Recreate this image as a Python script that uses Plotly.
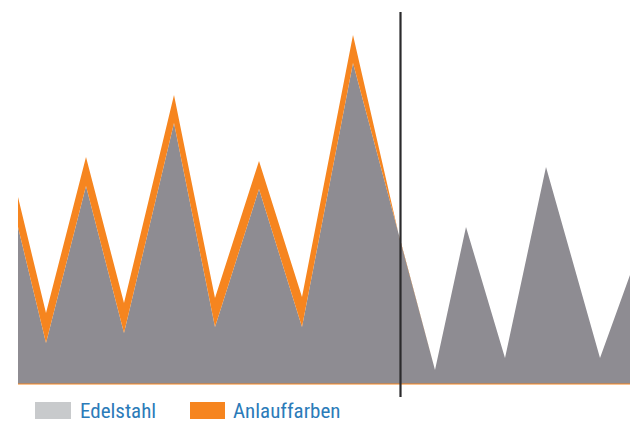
import plotly.graph_objects as go

# positions along the profile (arbitrary horizontal units)
x_pos = [18, 46, 86, 124, 174, 215, 259, 302, 353, 400, 435, 466, 505, 546, 600, 630]
# height of the steel surface profile
edelstahl = [157, 41, 198, 51, 261, 57, 195, 57, 321, 144, 14, 157, 26, 217, 26, 109]
# thickness of the temper-colour (oxide) layer on top
anlauffarben = [30, 30, 29, 30, 28, 29, 28, 30, 28, 0, 0, 0, 0, 0, 0, 0]

series_names = ["Edelstahl", "Anlauffarben"]
area_gray = "#8e8c92"
legend_gray = "#c8cacc"
orange = "#f6851f"
text_blue = "#2b7bb9"

W, H = 630, 423
base_page = 384
plot_h = base_page
bottom = H - plot_h
x_range = [0, 630]
y_range = [0, plot_h]

fig = go.Figure()
fig.add_trace(go.Scatter(
    x=x_pos, y=edelstahl, name=series_names[0], mode="lines",
    stackgroup="one", line=dict(width=0, color=area_gray),
    fillcolor=area_gray, hoverinfo="skip"))
fig.add_trace(go.Scatter(
    x=x_pos, y=anlauffarben, name=series_names[1], mode="lines",
    stackgroup="one", line=dict(width=0, color=orange),
    fillcolor=orange, hoverinfo="skip"))

def px_x(p):
    return p / W

def px_y(p):
    return (base_page - p) / plot_h

shapes = [
    # thin orange baseline
    dict(type="line", xref="paper", yref="paper", x0=px_x(18), x1=1,
         y0=px_y(384), y1=px_y(384), line=dict(color=orange, width=1)),
    # vertical divider
    dict(type="line", xref="paper", yref="paper", x0=px_x(400.5), x1=px_x(400.5),
         y0=px_y(397), y1=px_y(12), line=dict(color="#2b2a2c", width=2.2)),
    # legend swatches
    dict(type="rect", xref="paper", yref="paper", x0=px_x(35), x1=px_x(71),
         y0=px_y(419), y1=px_y(402), fillcolor=legend_gray, line=dict(width=0)),
    dict(type="rect", xref="paper", yref="paper", x0=px_x(190), x1=px_x(225),
         y0=px_y(419), y1=px_y(402), fillcolor=orange, line=dict(width=0)),
]

font = dict(family="Liberation Sans Narrow, Roboto Condensed, Arial Narrow, sans-serif",
            size=21, color=text_blue)
annotations = [
    dict(text=series_names[0], xref="paper", yref="paper", x=px_x(78), y=px_y(411),
         xanchor="left", yanchor="middle", showarrow=False, font=font),
    dict(text=series_names[1], xref="paper", yref="paper", x=px_x(231), y=px_y(411),
         xanchor="left", yanchor="middle", showarrow=False, font=font),
]

fig.update_layout(
    width=W, height=H,
    margin=dict(l=0, r=0, t=0, b=bottom),
    paper_bgcolor="white", plot_bgcolor="white",
    showlegend=False,
    hovermode=False,
    xaxis=dict(range=x_range, visible=False, fixedrange=True),
    yaxis=dict(range=y_range, visible=False, fixedrange=True),
    shapes=shapes, annotations=annotations,
)

# remove the default page margin so the figure fills the window exactly
page_css = ("document.documentElement.style.margin='0';"
            "document.documentElement.style.overflow='hidden';"
            "document.body.style.margin='0';"
            "document.body.style.overflow='hidden';")

fig.write_html("out.html", post_script=page_css,
               config={"displayModeBar": False, "staticPlot": True})
